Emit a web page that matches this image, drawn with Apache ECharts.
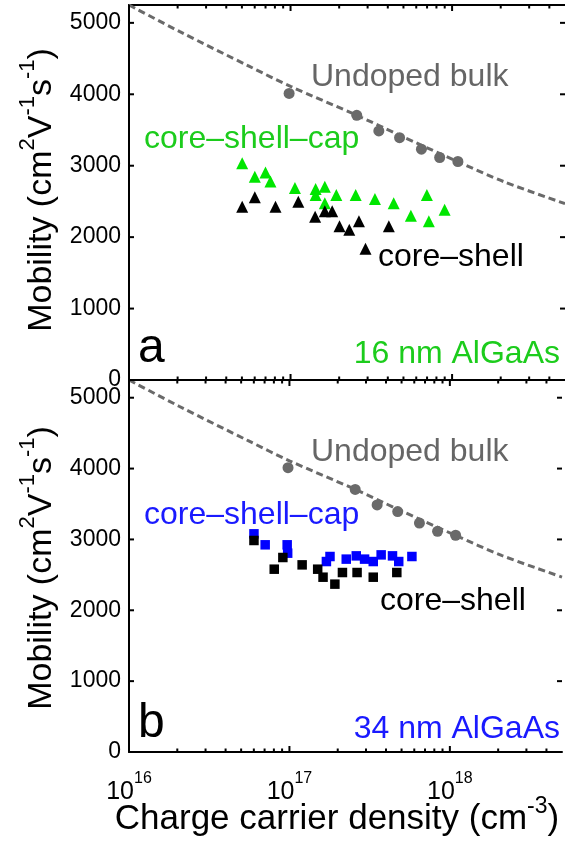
<!DOCTYPE html>
<html>
<head>
<meta charset="utf-8">
<script src="https://cdn.jsdelivr.net/npm/echarts@6/dist/echarts.min.js"></script>
<style>
html,body{margin:0;padding:0;background:#fff;}
#chart{width:565px;height:843px;}
</style>
</head>
<body>
<div id="chart"></div>
<script>
// ---------- data ----------
const xMin = 1e16, xMax = 5e18;
const yMax = 5250;
const yTicks = [0, 1000, 2000, 3000, 4000, 5000];
const xMajorTicks = [1e16, 1e17, 1e18];

// Undoped bulk (measured points) and its dashed guide curve
const bulkDensity  = [9.8e16, 2.57e17, 3.52e17, 4.73e17, 6.46e17, 8.38e17, 1.086e18];
const bulkMobility = [4012, 3706, 3487, 3393, 3231, 3115, 3059];
const bulkCurveDensity  = [1e16, 2.05e16, 5.57e16, 1e17, 2.57e17, 4.7e17, 1.08e18, 2.1e18, 5e18];
const bulkCurveMobility = [5250, 4880, 4390, 4110, 3706, 3430, 3059, 2775, 2469];

// Panel a: 16 nm AlGaAs
const aCapDensity  = [5.02e16, 6.01e16, 7.0e16, 7.51e16, 1.065e17, 1.43e17, 1.63e17, 1.43e17, 1.63e17, 1.92e17, 2.53e17, 3.33e17, 4.35e17, 5.56e17, 6.98e17, 7.18e17, 8.99e17];
const aCapMobility = [3036, 2845, 2905, 2780, 2688, 2673, 2706, 2590, 2473, 2590, 2590, 2534, 2473, 2301, 2590, 2222, 2385];
const aShellDensity  = [5.02e16, 6.01e16, 8.07e16, 1.117e17, 1.42e17, 1.63e17, 1.81e17, 2.01e17, 2.31e17, 2.65e17, 4.06e17, 2.91e17];
const aShellMobility = [2427, 2557, 2427, 2497, 2287, 2361, 2361, 2152, 2102, 2222, 2152, 1837];

// Panel b: 34 nm AlGaAs
const bCapDensity  = [6.01e16, 7.06e16, 9.68e16, 9.75e16, 1.79e17, 1.70e17, 2.26e17, 2.61e17, 2.94e17, 3.33e17, 3.73e17, 4.39e17, 4.80e17, 5.8e17];
const bCapMobility = [3079, 2924, 2924, 2806, 2759, 2688, 2722, 2768, 2722, 2688, 2782, 2768, 2688, 2759];
const bShellDensity  = [6.01e16, 8.04e16, 9.1e16, 1.2e17, 1.5e17, 1.62e17, 1.92e17, 2.14e17, 2.64e17, 3.33e17, 4.67e17];
const bShellMobility = [2985, 2580, 2745, 2641, 2580, 2467, 2369, 2533, 2533, 2467, 2533];

// ---------- styling ----------
const FONT = "'Liberation Sans', Arial, Helvetica, sans-serif";
const GREEN_MARK = '#00e600', GREEN_TEXT = '#1ccc1c';
const BLUE_MARK = '#0000ff', BLUE_TEXT = '#1a1aff';
const GRAY_MARK = '#6a6a6a', GRAY_TEXT = '#666666', GRAY_LINE = '#6a6a6a';

const zip = (xs, ys) => xs.map((x, i) => [x, ys[i]]);

// minor tick positions on the log axis (2..9 x 10^n)
const minorTickValues = [];
for (let d = 16; d <= 18; d++) {
  for (let k = 2; k <= 9; k++) {
    const v = k * Math.pow(10, d);
    if (v < xMax) minorTickValues.push(v);
  }
}

function xAxis(grid, pos, labels) {
  return {
    type: 'log', logBase: 10, gridIndex: grid, position: pos,
    min: xMin, max: xMax,
    axisLine: { show: true, onZero: false, lineStyle: { color: '#000', width: 2 } },
    axisTick: { show: false },
    splitLine: { show: false },
    minorTick: { show: false },
    axisLabel: {
      show: labels, margin: 19,
      formatter: function (v) {
        const e = Math.log10(v);
        if (Math.abs(e - Math.round(e)) > 1e-6) return '';
        return '{b|10}{s|' + Math.round(e) + '}';
      },
      rich: {
        b: { fontSize: 25, fontFamily: FONT, color: '#000', verticalAlign: 'bottom', lineHeight: 34 },
        s: { fontSize: 16, fontFamily: FONT, color: '#000', verticalAlign: 'top', lineHeight: 34 }
      }
    }
  };
}
function yAxis(grid, pos, labels) {
  return {
    type: 'value', gridIndex: grid, position: pos,
    min: 0, max: yMax, interval: 1000,
    axisLine: { show: pos === 'left', onZero: false, lineStyle: { color: '#000', width: 2 } },
    axisTick: { show: false },
    splitLine: { show: false },
    axisLabel: {
      show: labels, margin: 8, fontSize: 23, fontFamily: FONT, color: '#000',
      showMaxLabel: false,
      formatter: v => (yTicks.indexOf(v) >= 0 ? String(v) : '')
    }
  };
}

function scatter(name, data, xi, yi, symbol, size, color) {
  return {
    name, type: 'scatter', xAxisIndex: xi, yAxisIndex: yi,
    data, symbol, symbolSize: size, itemStyle: { color, opacity: 1 }, z: 5, silent: true
  };
}
function curve(xi, yi) {
  return {
    type: 'line', xAxisIndex: xi, yAxisIndex: yi, data: zip(bulkCurveDensity, bulkCurveMobility),
    showSymbol: false, smooth: 0.3, silent: true, z: 3,
    lineStyle: { color: GRAY_LINE, width: 3, type: [7, 4] }
  };
}

function label(text, x, y, color, size, align) {
  return {
    type: 'text', x, y, z: 100, silent: true,
    style: { text, fill: color, font: size + 'px ' + FONT, textAlign: align || 'left', textVerticalAlign: 'middle' }
  };
}
function richTitle(x, y, rotation, sup, size) {
  return {
    type: 'text', x, y, rotation, z: 100, silent: true,
    style: {
      text: sup,
      textAlign: 'center', textVerticalAlign: 'middle',
      rich: {
        t: { fontSize: size, fontFamily: FONT, fill: '#000', color: '#000', verticalAlign: 'bottom', lineHeight: 42 },
        u: { fontSize: Math.round(size * 0.65), fontFamily: FONT, fill: '#000', color: '#000', verticalAlign: 'top', lineHeight: 42 }
      }
    }
  };
}
const yTitle = '{t|Mobility (cm}{u|2}{t|V}{u|-1}{t|s}{u|-1}{t|)}';
const xTitle = '{t|Charge carrier density (cm}{u|-3}{t|)}';

const textGraphics = [
  label('Undoped bulk', 311, 77, GRAY_TEXT, 32),
  label('core\u2013shell\u2013cap', 144, 139, GREEN_TEXT, 32),
  label('core\u2013shell', 378, 257, '#000', 32),
  label('16 nm AlGaAs', 560, 354, GREEN_TEXT, 32, 'right'),
  label('a', 138, 349, '#000', 48),
  label('Undoped bulk', 311, 452, GRAY_TEXT, 32),
  label('core\u2013shell\u2013cap', 144, 515, BLUE_TEXT, 32),
  label('core\u2013shell', 380, 601, '#000', 32),
  label('34 nm AlGaAs', 560, 729, BLUE_TEXT, 32, 'right'),
  label('b', 138, 724, '#000', 48),
  richTitle(38, 190, Math.PI / 2, yTitle, 34),
  richTitle(38, 568, Math.PI / 2, yTitle, 34),
  richTitle(337, 816, 0, xTitle, 35)
];

const option = {
  animation: false,
  backgroundColor: '#ffffff',
  grid: [
    { left: 129, top: 5, width: 438, height: 375 },
    { left: 129, top: 380, width: 438, height: 372 }
  ],
  xAxis: [xAxis(0, 'bottom', false), xAxis(0, 'top', false), xAxis(1, 'bottom', true), xAxis(1, 'top', false)],
  yAxis: [yAxis(0, 'left', true), yAxis(0, 'right', false), yAxis(1, 'left', true), yAxis(1, 'right', false)],
  series: [
    curve(0, 0),
    scatter('bulk a', zip(bulkDensity, bulkMobility), 0, 0, 'circle', 11, GRAY_MARK),
    scatter('cap a', zip(aCapDensity, aCapMobility), 0, 0, 'triangle', 12, GREEN_MARK),
    scatter('shell a', zip(aShellDensity, aShellMobility), 0, 0, 'triangle', 12, '#000'),
    curve(2, 2),
    scatter('bulk b', zip(bulkDensity, bulkMobility), 2, 2, 'circle', 11, GRAY_MARK),
    scatter('cap b', zip(bCapDensity, bCapMobility), 2, 2, 'rect', 9.5, BLUE_MARK),
    scatter('shell b', zip(bShellDensity, bShellMobility), 2, 2, 'rect', 9.5, '#000')
  ]
};

const chart = echarts.init(document.getElementById('chart'), null, { renderer: 'canvas' });
chart.setOption(option);

// ---------- tick marks, placed through the axes' own scales ----------
function tickLine(x1, y1, x2, y2) {
  return { type: 'line', silent: true, z: 60, shape: { x1, y1, x2, y2 }, style: { stroke: '#000', lineWidth: 2 } };
}
const ticks = [];
[[0, 0, 0], [1, 2, 2]].forEach(([gi, xi, yi]) => {
  const yTop = chart.convertToPixel({ yAxisIndex: yi }, yMax);
  const yBot = chart.convertToPixel({ yAxisIndex: yi }, 0);
  const xLeft = chart.convertToPixel({ xAxisIndex: xi }, xMin);
  const xRight = chart.convertToPixel({ xAxisIndex: xi }, xMax);
  xMajorTicks.forEach(v => {
    const x = chart.convertToPixel({ xAxisIndex: xi }, v);
    ticks.push(tickLine(x, yBot, x, yBot - 6));
    ticks.push(tickLine(x, yTop, x, yTop + 6));
  });
  minorTickValues.forEach(v => {
    const x = chart.convertToPixel({ xAxisIndex: xi }, v);
    ticks.push(tickLine(x, yBot, x, yBot - 3.5));
    ticks.push(tickLine(x, yTop, x, yTop + 3.5));
  });
  yTicks.forEach(v => {
    const y = chart.convertToPixel({ yAxisIndex: yi }, v);
    ticks.push(tickLine(xLeft, y, xLeft + 5, y));
    ticks.push(tickLine(xRight - 5, y, xRight, y));
  });
});
chart.setOption({ graphic: textGraphics.concat(ticks) });
</script>
</body>
</html>
